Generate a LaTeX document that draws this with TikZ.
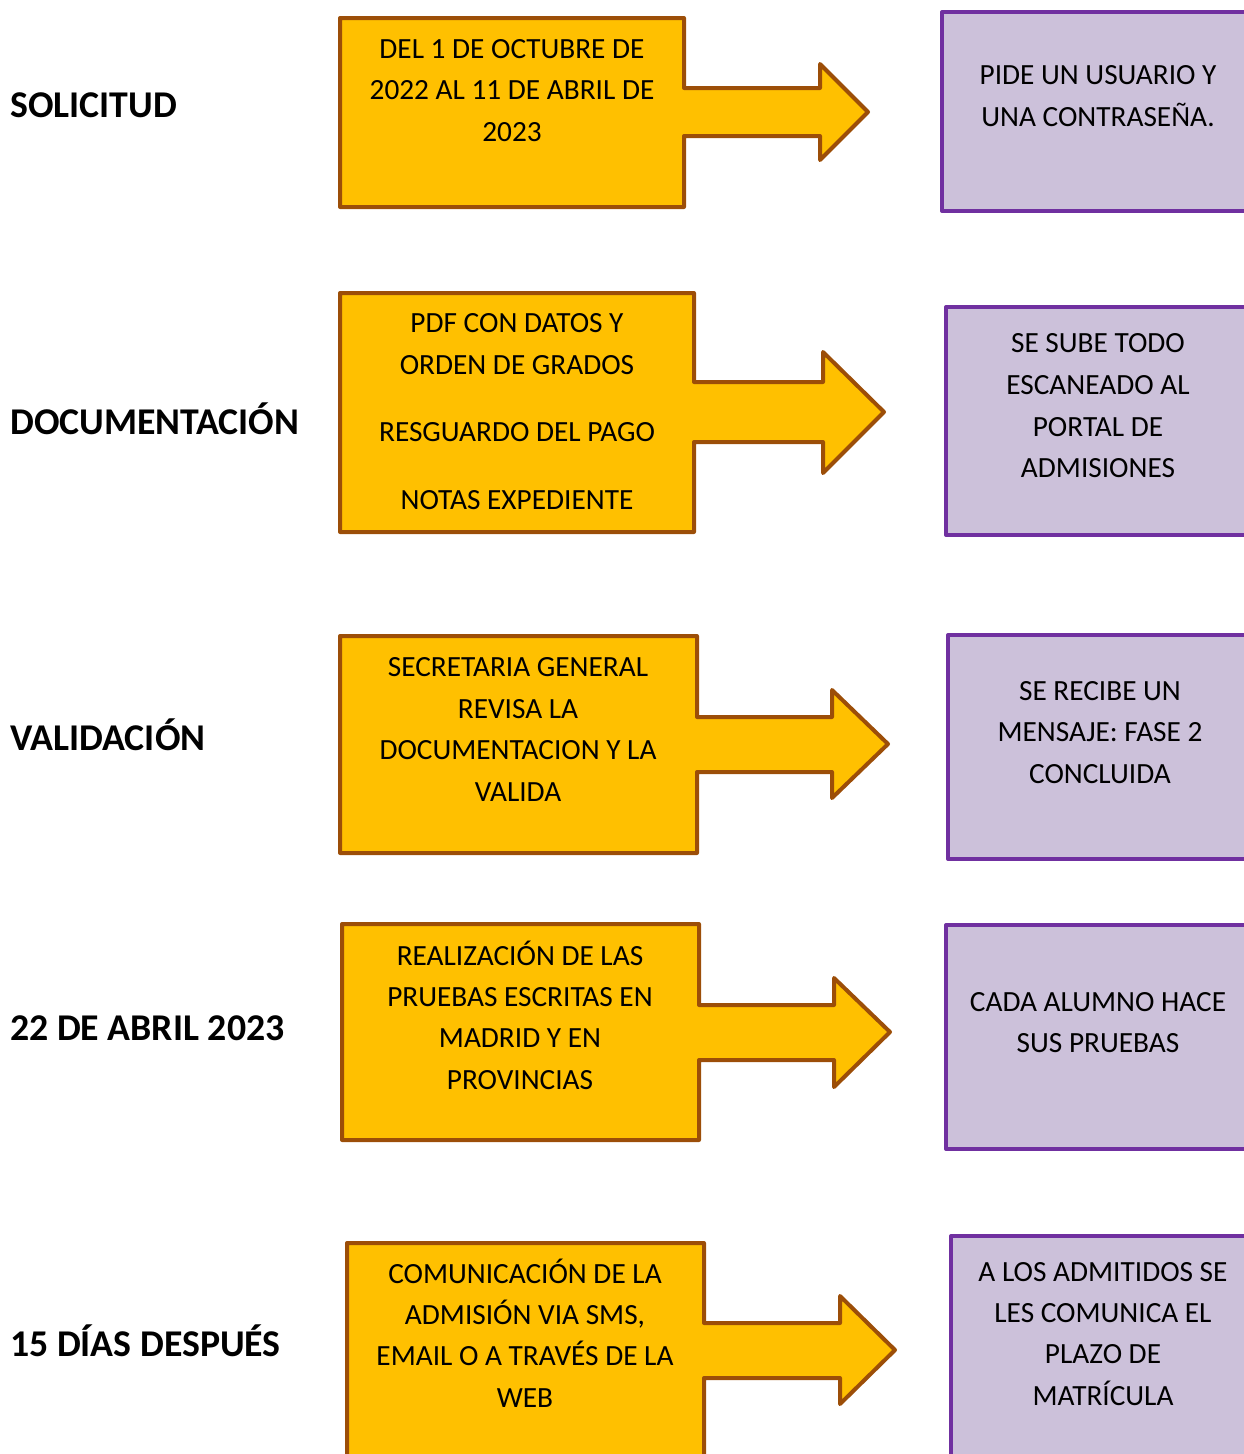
\documentclass[tikz,border=0pt]{standalone}
\usepackage{fontspec}
\setmainfont{Carlito}
\definecolor{orfill}{RGB}{255,192,0}
\definecolor{ordraw}{RGB}{156,78,8}
\definecolor{pufill}{RGB}{204,193,218}
\definecolor{pudraw}{RGB}{112,48,160}
\tikzset{
  orshape/.style={fill=orfill, draw=ordraw, line width=4pt, line join=round},
  pubox/.style={fill=pufill, draw=pudraw, line width=4pt, line join=round},
  txt/.style={anchor=base, inner sep=0pt, font=\fontsize{29.3}{35}\selectfont, text=black},
  lbl/.style={anchor=base west, inner sep=0pt, font=\fontsize{37.8}{44}\selectfont\bfseries, text=black}
}
\begin{document}
\begin{tikzpicture}[x=1pt,y=-1pt]
\useasboundingbox (0,0) rectangle (1244,1454);
\clip (0,0) rectangle (1244,1454);

% ---------- Row 1 ----------
\node[lbl] (l1) at (10,117) {SOLICITUD};
\draw[orshape] (340,18) -- (684,18) -- (684,88) -- (820,88) -- (820,64) -- (868,112) -- (820,160) -- (820,136) -- (684,136) -- (684,207) -- (340,207) -- cycle;
\node[txt] (o1a) at (512,58) {DEL 1 DE OCTUBRE DE};
\node[txt] (o1b) at (512,99.5) {2022 AL 11 DE ABRIL DE};
\node[txt] (o1c) at (512,141) {2023};
\draw[pubox] (942,12) rectangle (1270,211);
\node[txt] (p1a) at (1098,84) {PIDE UN USUARIO Y};
\node[txt] (p1b) at (1098,126) {UNA CONTRASEÑA.};

% ---------- Row 2 ----------
\node[lbl] (l2) at (10,434) {DOCUMENTACIÓN};
\draw[orshape] (340,293) -- (694,293) -- (694,382) -- (823,382) -- (823,352) -- (884,412) -- (823,473) -- (823,442) -- (694,442) -- (694,532) -- (340,532) -- cycle;
\node[txt] (o2a) at (517,332) {PDF CON DATOS Y};
\node[txt] (o2b) at (517,374) {ORDEN DE GRADOS};
\node[txt] (o2c) at (517,441) {RESGUARDO DEL PAGO};
\node[txt] (o2d) at (517,509) {NOTAS EXPEDIENTE};
\draw[pubox] (946,307) rectangle (1270,535);
\node[txt] (p2a) at (1098,352) {SE SUBE TODO};
\node[txt] (p2b) at (1098,394) {ESCANEADO AL};
\node[txt] (p2c) at (1098,436) {PORTAL DE};
\node[txt] (p2d) at (1098,477) {ADMISIONES};

% ---------- Row 3 ----------
\node[lbl] (l3) at (10,750) {VALIDACIÓN};
\draw[orshape] (340,636) -- (697,636) -- (697,717) -- (832,717) -- (832,690) -- (888,744) -- (832,798) -- (832,772) -- (697,772) -- (697,853) -- (340,853) -- cycle;
\node[txt] (o3a) at (518,676) {SECRETARIA GENERAL};
\node[txt] (o3b) at (518,718) {REVISA LA};
\node[txt] (o3c) at (518,759) {DOCUMENTACION Y LA};
\node[txt] (o3d) at (518,801) {VALIDA};
\draw[pubox] (948,635) rectangle (1270,859);
\node[txt] (p3a) at (1100,700) {SE RECIBE UN};
\node[txt] (p3b) at (1100,741) {MENSAJE: FASE 2};
\node[txt] (p3c) at (1100,783) {CONCLUIDA};

% ---------- Row 4 ----------
\node[lbl] (l4) at (10,1040) {22 DE ABRIL 2023};
\draw[orshape] (342,924) -- (699,924) -- (699,1005) -- (834,1005) -- (834,978) -- (890,1032) -- (834,1087) -- (834,1060) -- (699,1060) -- (699,1140) -- (342,1140) -- cycle;
\node[txt] (o4a) at (520,965) {REALIZACIÓN DE LAS};
\node[txt] (o4b) at (520,1006) {PRUEBAS ESCRITAS EN};
\node[txt] (o4c) at (520,1047) {MADRID Y EN};
\node[txt] (o4d) at (520,1089) {PROVINCIAS};
\draw[pubox] (946,925) rectangle (1270,1149);
\node[txt] (p4a) at (1098,1011) {CADA ALUMNO HACE};
\node[txt] (p4b) at (1098,1052) {SUS PRUEBAS};

% ---------- Row 5 ----------
\node[lbl] (l5) at (10,1356) {15 DÍAS DESPUÉS};
\draw[orshape] (347,1243) -- (704,1243) -- (704,1323) -- (840,1323) -- (840,1296) -- (895,1350) -- (840,1404) -- (840,1378) -- (704,1378) -- (704,1480) -- (347,1480) -- cycle;
\node[txt] (o5a) at (525,1283) {COMUNICACIÓN DE LA};
\node[txt] (o5b) at (525,1324) {ADMISIÓN VIA SMS,};
\node[txt] (o5c) at (525,1365) {EMAIL O A TRAVÉS DE LA};
\node[txt] (o5d) at (525,1407) {WEB};
\draw[pubox] (951,1236) rectangle (1270,1480);
\node[txt] (p5a) at (1103,1281) {A LOS ADMITIDOS SE};
\node[txt] (p5b) at (1103,1322) {LES COMUNICA EL};
\node[txt] (p5c) at (1103,1363) {PLAZO DE};
\node[txt] (p5d) at (1103,1405) {MATRÍCULA};
\end{tikzpicture}
\end{document}
